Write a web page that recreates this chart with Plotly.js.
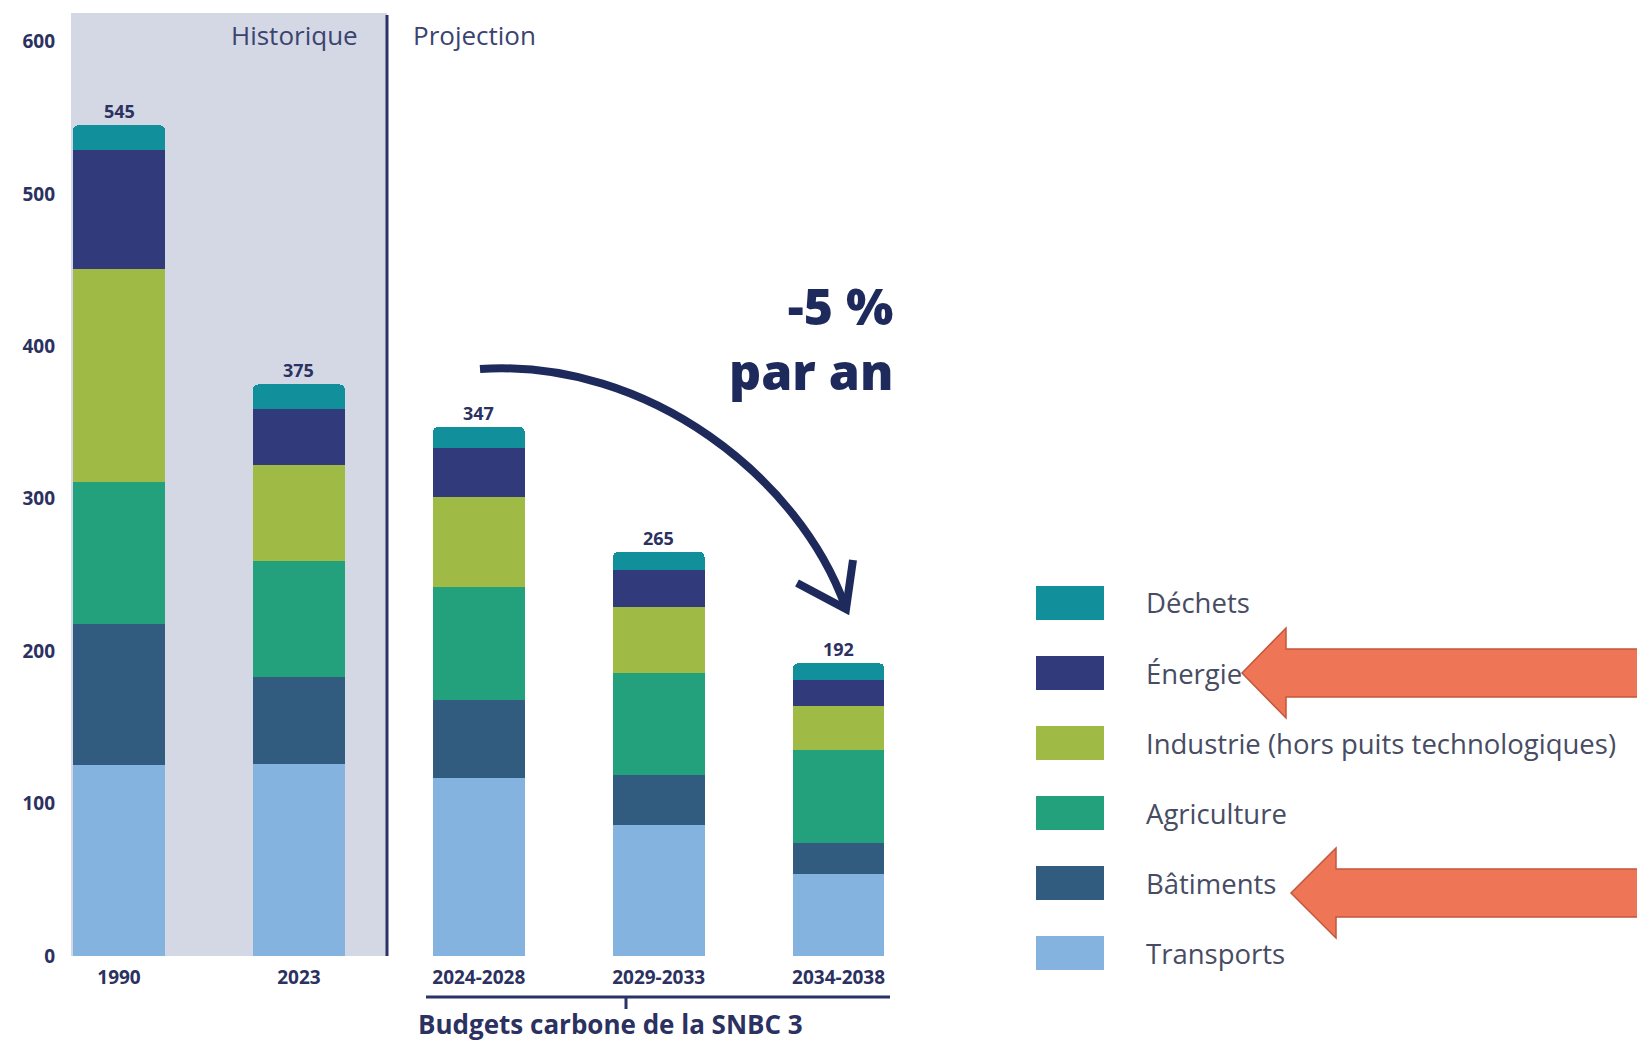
<!DOCTYPE html>
<html><head><meta charset="utf-8">
<script src="https://cdn.plot.ly/plotly-3.0.1.min.js"></script>
<style>html,body{margin:0;padding:0;background:#fff}</style>
</head><body>
<div id="chart" style="width:1637px;height:1042px"></div>
<script>
// ---- data (Mt CO2e) ----
const categories = ['1990','2023','2024-2028','2029-2033','2034-2038'];
const transports  = [125,126,117,86,54];
const batiments   = [93,57,51,33,20];
const agriculture = [93,76,74,67,61];
const industrie   = [140,63,59,43,29];
const energie     = [78,37,32,24,17];
const dechets     = [16,16,14,12,11];
const totals      = [545,375,347,265,192];
const seriesNames = ['Transports','Bâtiments','Agriculture','Industrie (hors puits technologiques)','Énergie','Déchets'];
const seriesColors = ['#85b3e0','#315c80','#23a17d','#a0ba46','#313b7b','#11909b'];
const seriesValues = [transports,batiments,agriculture,industrie,energie,dechets];
const yTicks = [0,100,200,300,400,500,600];

// ---- geometry helpers (pixel -> paper) ----
const L=60, T=11, W=841, H=945;
const px = x => (x-L)/W;
const py = y => (T+H-y)/H;
const navy = '#2b3160';
const FONT = 'Open Sans';

const traces = seriesValues.map((v,i)=>({
  type:'bar', x:categories, y:v, name:seriesNames[i],
  marker:{color:seriesColors[i], line:{width:0}},
  width:0.51, showlegend:false, hoverinfo:'name+y'
}));

function txt(x, y, text, font, xanchor){
  return {x:x, y:y, xref:'paper', yref:'paper', text:text, showarrow:false,
    xanchor:xanchor||'center', yanchor:'middle', font:font};
}

const annotations = [];
categories.forEach((c,i)=>{
  annotations.push({x:i, y:totals[i], xref:'x', yref:'y', text:String(totals[i]),
    showarrow:false, xanchor:'center', yanchor:'bottom', yshift:0,
    font:{family:FONT, size:18, weight:700, color:navy}});
});
annotations.push(txt(px(294), py(35), 'Historique', {family:FONT, size:26, color:'#3b4470'}));
annotations.push(txt(px(474), py(35), 'Projection', {family:FONT, size:26, color:'#3b4470'}));
const big = txt(px(895), py(338), '-5 %<br>par an', {family:FONT, size:50, weight:800, color:'#1f2a5c'}, 'right');
big.align = 'right';
annotations.push(big);
annotations.push(txt(px(610), py(1024), 'Budgets carbone de la SNBC 3', {family:FONT, size:26, weight:700, color:navy}));

const shapes = [];
// historical background
shapes.push({type:'rect', xref:'paper', yref:'paper', x0:px(71), x1:px(387), y0:py(956), y1:py(13),
  fillcolor:'#d4d7e4', line:{width:0}, layer:'below'});
shapes.push({type:'line', xref:'paper', yref:'paper', x0:px(387), x1:px(387), y0:py(956), y1:py(15),
  line:{color:'#2b3366', width:3}});
// curved arrow
shapes.push({type:'path', xref:'paper', yref:'paper',
  path:`M ${px(480)},${py(369)} C ${px(650)},${py(358)} ${px(800)},${py(480)} ${px(845)},${py(606)}`,
  line:{color:'#1f2a5c', width:8}});
shapes.push({type:'path', xref:'paper', yref:'paper',
  path:`M ${px(797)},${py(583)} L ${px(846)},${py(609)} L ${px(853)},${py(560)}`,
  line:{color:'#1f2a5c', width:8}});
// brace under projection bars
shapes.push({type:'line', xref:'paper', yref:'paper', x0:px(426), x1:px(890), y0:py(997), y1:py(997),
  line:{color:'#2b3366', width:3}});
shapes.push({type:'line', xref:'paper', yref:'paper', x0:px(626), x1:px(626), y0:py(997), y1:py(1009),
  line:{color:'#2b3366', width:3}});

// custom legend (top: Déchets ... bottom: Transports)
const legendOrder = [5,4,3,2,1,0];
legendOrder.forEach((si,row)=>{
  const cy = 603 + 70*row;
  shapes.push({type:'rect', xref:'paper', yref:'paper', x0:px(1036), x1:px(1104), y0:py(cy+17), y1:py(cy-17),
    fillcolor:seriesColors[si], line:{width:0}});
  annotations.push(txt(px(1144), py(cy), seriesNames[si], {family:FONT, size:27.5, color:'#474c63'}, 'left'));
});

// orange callout arrows
function blockArrow(tipX, tipY, baseX, headHalf, shaftHalf){
  return `M ${px(tipX)},${py(tipY)} L ${px(baseX)},${py(tipY-headHalf)} L ${px(baseX)},${py(tipY-shaftHalf)} `+
         `L ${px(1660)},${py(tipY-shaftHalf)} L ${px(1660)},${py(tipY+shaftHalf)} L ${px(baseX)},${py(tipY+shaftHalf)} `+
         `L ${px(baseX)},${py(tipY+headHalf)} Z`;
}
shapes.push({type:'path', xref:'paper', yref:'paper', path:blockArrow(1242,673,1286,45,24),
  fillcolor:'#ee7656', line:{color:'#c4573b', width:1.5}});
shapes.push({type:'path', xref:'paper', yref:'paper', path:blockArrow(1291,893,1336,45,24),
  fillcolor:'#ee7656', line:{color:'#c4573b', width:1.5}});

const layout = {
  width:1637, height:1042,
  margin:{l:L, r:1637-L-W, t:T, b:1042-T-H, pad:0},
  paper_bgcolor:'#ffffff', plot_bgcolor:'rgba(0,0,0,0)',
  barmode:'stack', barcornerradius:5,
  showlegend:false,
  xaxis:{type:'category', range:[-0.328,4.347], showgrid:false, zeroline:false, showline:false, ticks:'',
    ticklabelstandoff:8,
    tickfont:{family:FONT, size:19, weight:700, color:navy}, fixedrange:true},
  yaxis:{range:[0,620], tickvals:yTicks, showgrid:false, zeroline:false, showline:false, ticks:'',
    ticklabelstandoff:4,
    tickfont:{family:FONT, size:19, weight:700, color:navy}, fixedrange:true},
  shapes:shapes, annotations:annotations
};
Plotly.newPlot('chart', traces, layout, {displayModeBar:false, staticPlot:true});
</script>
</body></html>
